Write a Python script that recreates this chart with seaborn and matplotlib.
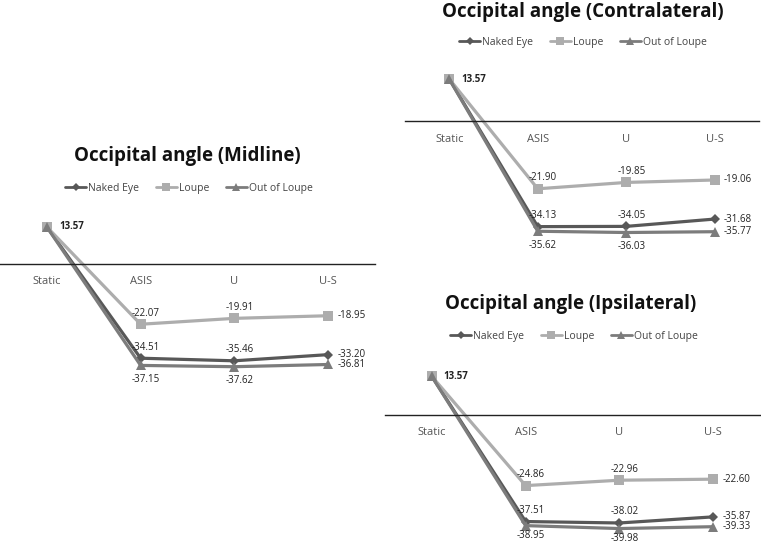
import pandas as pd
import matplotlib.pyplot as plt
import seaborn as sns
from matplotlib.lines import Line2D

categories = ["Static", "ASIS", "U", "U-S"]
series_names = ["Naked Eye", "Loupe", "Out of Loupe"]

midline_naked = [13.57, -34.51, -35.46, -33.20]
midline_loupe = [13.57, -22.07, -19.91, -18.95]
midline_out = [13.57, -37.15, -37.62, -36.81]

contra_naked = [13.57, -34.13, -34.05, -31.68]
contra_loupe = [13.57, -21.90, -19.85, -19.06]
contra_out = [13.57, -35.62, -36.03, -35.77]

ipsi_naked = [13.57, -37.51, -38.02, -35.87]
ipsi_loupe = [13.57, -24.86, -22.96, -22.60]
ipsi_out = [13.57, -38.95, -39.98, -39.33]

COLORS = {"Naked Eye": "#585858", "Loupe": "#adadad", "Out of Loupe": "#7c7c7c"}
MARKERS = {"Naked Eye": "D", "Loupe": "s", "Out of Loupe": "^"}
MSIZE = {"Naked Eye": 5, "Loupe": 7, "Out of Loupe": 7}

W, H = 761, 546

sns.set_style("white")
plt.rcParams["font.family"] = ["Open Sans", "DejaVu Sans"]


def make_df(naked, loupe, out):
    rows = []
    for name, vals in zip(series_names, [naked, loupe, out]):
        for cat, v in zip(categories, vals):
            rows.append({"cat": cat, "value": v, "series": name})
    return pd.DataFrame(rows)


def px_rect(left, right, zero_y, scale):
    # axes rectangle in figure fractions, ylim fixed to (-45, 20)
    top = zero_y - 20 * scale
    bottom = zero_y + 45 * scale
    return [left / W, 1 - bottom / H, (right - left) / W, (bottom - top) / H]


def draw_panel(fig, rect, df, title, title_xy, legend_xy, below=14):
    ax = fig.add_axes(rect)
    for name in series_names:
        sub = df[df["series"] == name]
        sns.lineplot(data=sub, x="cat", y="value", ax=ax, color=COLORS[name],
                     marker=MARKERS[name], markersize=MSIZE[name], markeredgewidth=0,
                     linewidth=2.3, legend=False, sort=False)
    ax.set_xlim(-0.5, 3.5)
    ax.set_ylim(-45, 20)
    for s in ["top", "left", "right"]:
        ax.spines[s].set_visible(False)
    ax.spines["bottom"].set_position(("data", 0))
    ax.spines["bottom"].set_color("#222222")
    ax.spines["bottom"].set_linewidth(1.0)
    ax.set_yticks([])
    ax.set_xlabel("")
    ax.set_ylabel("")
    ax.tick_params(axis="x", length=0, pad=9, labelsize=8, labelcolor="#555555")

    # data labels
    ax.annotate(f"{df['value'].iloc[0]:.2f}", (0, df["value"].iloc[0]), xytext=(12, 0),
                textcoords="offset pixels", ha="left", va="center", fontsize=7,
                fontweight="bold", color="#222222")
    for name in series_names:
        vals = df[df["series"] == name]["value"].tolist()
        for i in range(1, 4):
            txt = f"{vals[i]:.2f}"
            if i == 3:
                xy_off, ha, va = (9, 0), "left", "center"
            elif name == "Out of Loupe":
                xy_off, ha, va = (5, -below), "center", "center"
            else:
                xy_off, ha, va = (5, 11), "center", "center"
            ax.annotate(txt, (i, vals[i]), xytext=xy_off, textcoords="offset pixels",
                        ha=ha, va=va, fontsize=7, color="#222222")

    fig.text(title_xy[0] / W, 1 - title_xy[1] / H, title, ha="center", va="center",
             fontsize=13.5, fontweight="bold", color="#111111")
    handles = [Line2D([], [], color=COLORS[n], marker=MARKERS[n], markersize=MSIZE[n] - 1,
                      markeredgewidth=0, linewidth=2.0) for n in series_names]
    fig.legend(handles, series_names, loc="center",
               bbox_to_anchor=(legend_xy[0] / W, 1 - legend_xy[1] / H), ncol=3,
               frameon=False, fontsize=7.5, handlelength=2.0, handletextpad=0.2,
               columnspacing=1.6, labelcolor="#444444")
    return ax


fig = plt.figure(figsize=(W / 100, H / 100), dpi=100)

draw_panel(fig, px_rect(0, 375, 264, 2.73), make_df(midline_naked, midline_loupe, midline_out),
           "Occipital angle (Midline)", (187, 156), (189, 188))
draw_panel(fig, px_rect(405, 759, 121, 3.095), make_df(contra_naked, contra_loupe, contra_out),
           "Occipital angle (Contralateral)", (583, 12), (583, 42))
draw_panel(fig, px_rect(385, 760, 415, 2.84), make_df(ipsi_naked, ipsi_loupe, ipsi_out),
           "Occipital angle (Ipsilateral)", (571, 304), (574, 336), below=10)

fig.savefig("out.png", dpi=100)
